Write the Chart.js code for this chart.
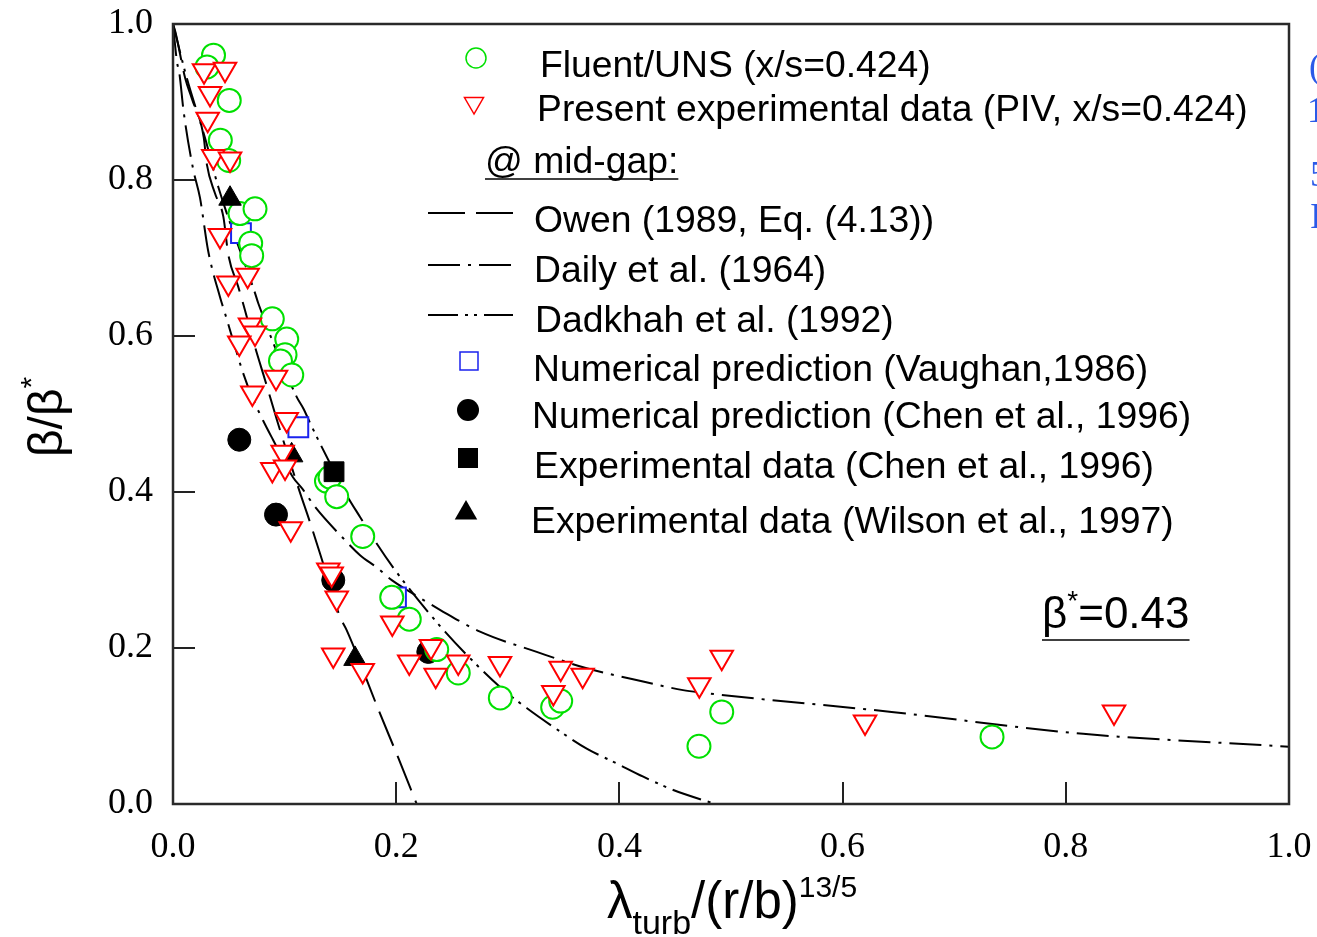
<!DOCTYPE html>
<html><head><meta charset="utf-8">
<script src="https://cdn.jsdelivr.net/npm/chart.js@4.4.1/dist/chart.umd.min.js"></script>
<style>html,body{margin:0;padding:0;background:#fff;overflow:hidden;}#wrap{position:relative;width:1317px;height:937px;}</style>
</head><body><div id="wrap"><canvas id="c" width="1317" height="937"></canvas></div>
<script>
// ---- data ----
const tickValues = [0, 0.2, 0.4, 0.6, 0.8, 1.0];
const tickLabels = ['0.0', '0.2', '0.4', '0.6', '0.8', '1.0'];

const fluentX = [0.0363,0.0305,0.0504,0.0424,0.0499,0.0600,0.0735,0.0696,0.0705,0.0890,0.1019,0.1004,0.0963,0.1064,0.1375,0.1407,0.1467,0.1700,0.1960,0.2117,0.2363,0.2556,0.2933,0.3402,0.3474,0.4713,0.4917,0.7339];
const fluentY = [0.960,0.945,0.902,0.851,0.825,0.757,0.763,0.719,0.703,0.622,0.596,0.576,0.568,0.550,0.414,0.419,0.394,0.343,0.265,0.237,0.198,0.168,0.136,0.124,0.132,0.074,0.118,0.086];

const pivX = [0.0278,0.0466,0.0332,0.0311,0.0361,0.0511,0.0421,0.0669,0.0496,0.0690,0.0735,0.0594,0.0923,0.0711,0.1019,0.0983,0.0890,0.1004,0.1055,0.1392,0.1422,0.1467,0.1965,0.1436,0.1700,0.2117,0.2312,0.2354,0.2556,0.2930,0.3474,0.3671,0.3408,0.4716,0.4917,0.6201,0.8432];
const pivY = [0.940,0.942,0.911,0.878,0.830,0.827,0.729,0.678,0.668,0.614,0.604,0.591,0.547,0.527,0.493,0.451,0.429,0.432,0.353,0.300,0.295,0.264,0.232,0.191,0.171,0.182,0.202,0.165,0.182,0.180,0.174,0.165,0.143,0.153,0.188,0.105,0.118];

const vaughanX = [0.0609,0.1123,0.1998];
const vaughanY = [0.732,0.483,0.265];

const chenNumX = [0.0594,0.0923,0.1436,0.2288];
const chenNumY = [0.467,0.371,0.287,0.195];

const chenExpX = [0.1443];
const chenExpY = [0.426];

const wilsonX = [0.0511,0.1063,0.1631];
const wilsonY = [0.776,0.447,0.186];

const owenX = [0,0.0021,0.0110,0.0170,0.0275,0.0302,0.0376,0.0451,0.0496,0.0585,0.0645,0.0735,0.0824,0.0932,0.1129,0.1228,0.1344,0.1496,0.1556,0.1849,0.2019,0.2184];
const owenY = [1.0,0.990,0.930,0.904,0.855,0.821,0.783,0.753,0.704,0.663,0.633,0.586,0.544,0.492,0.403,0.361,0.309,0.240,0.223,0.118,0.059,0.0];

const dailyX = [0,0.0036,0.0056,0.0096,0.0179,0.0242,0.0314,0.0421,0.0466,0.0556,0.0627,0.0708,0.0806,0.0896,0.1075,0.1165,0.1272,0.1523,0.1676,0.1828,0.1960,0.2124,0.2392,0.2751,0.3259,0.3707,0.4122,0.4570,0.4724,0.6439,0.8155,1.0];
const dailyY = [1.0,0.951,0.938,0.887,0.815,0.777,0.710,0.650,0.629,0.586,0.553,0.522,0.492,0.467,0.419,0.403,0.381,0.341,0.319,0.303,0.287,0.272,0.249,0.221,0.195,0.174,0.160,0.146,0.143,0.118,0.090,0.0735];

const dadkhahX = [0,0.0125,0.0289,0.0406,0.0735,0.0764,0.1108,0.1168,0.1243,0.1392,0.1556,0.1676,0.1825,0.1989,0.2195,0.2437,0.2661,0.2930,0.3169,0.3468,0.3707,0.3976,0.4214,0.4483,0.4857];
const dadkhahY = [1.0,0.930,0.853,0.791,0.655,0.642,0.522,0.507,0.484,0.441,0.396,0.368,0.334,0.300,0.262,0.221,0.187,0.150,0.123,0.093,0.071,0.052,0.035,0.018,0.0];

// ---- build chart ----
const pts = (xs, ys) => xs.map((x, i) => ({x: x, y: ys[i]}));
const GREEN = '#00e000', RED = '#ff0000', BLUE = '#1a22ee', BLACK = '#000';
const OWEN_DASH = [37, 11], DAILY_DASH = [32, 8, 3, 8], DADKHAH_DASH = [30, 7, 3, 6, 3, 7];

const curve = (label, xs, ys, dash) => ({
  label, data: pts(xs, ys), showLine: true, borderColor: BLACK, borderWidth: 2,
  borderDash: dash, pointRadius: 0, pointHoverRadius: 0, cubicInterpolationMode: 'monotone',
  fill: false, order: 10
});

const datasets = [
  curve('Owen (1989, Eq. (4.13))', owenX, owenY, OWEN_DASH),
  curve('Daily et al. (1964)', dailyX, dailyY, DAILY_DASH),
  curve('Dadkhah et al. (1992)', dadkhahX, dadkhahY, DADKHAH_DASH),
  {label: 'Numerical prediction (Vaughan,1986)', data: pts(vaughanX, vaughanY), pointStyle: 'rect',
   pointRadius: 14, borderColor: BLUE, backgroundColor: '#fff', borderWidth: 2, order: 9},
  {label: 'Numerical prediction (Chen et al., 1996)', data: pts(chenNumX, chenNumY), pointStyle: 'circle',
   pointRadius: 11.5, borderColor: BLACK, backgroundColor: BLACK, borderWidth: 1, order: 8},
  {label: 'Fluent/UNS (x/s=0.424)', data: pts(fluentX, fluentY), pointStyle: 'circle',
   pointRadius: 11.5, borderColor: GREEN, backgroundColor: '#fff', borderWidth: 2, order: 7},
  {label: 'Experimental data (Chen et al., 1996)', data: pts(chenExpX, chenExpY), pointStyle: 'rect',
   pointRadius: 14, borderColor: BLACK, backgroundColor: BLACK, borderWidth: 1, order: 6},
  {label: 'Experimental data (Wilson et al., 1997)', data: pts(wilsonX, wilsonY), pointStyle: 'triangle',
   pointRadius: 13, borderColor: BLACK, backgroundColor: BLACK, borderWidth: 1, order: 5},
  {label: 'Present experimental data (PIV, x/s=0.424)', data: pts(pivX, pivY), pointStyle: 'triangle',
   pointRotation: 180, pointRadius: 13, borderColor: RED, backgroundColor: '#fff', borderWidth: 2, order: 4}
];

const SANS = '"Liberation Sans", Arial, sans-serif';
const SERIF = '"Liberation Serif", "Times New Roman", serif';

function marker(ctx, kind, x, y, r, stroke, fill, lw) {
  ctx.save();
  ctx.beginPath();
  if (kind === 'circle') { ctx.arc(x, y, r, 0, Math.PI * 2); }
  else if (kind === 'rect') { ctx.rect(x - r, y - r, 2 * r, 2 * r); }
  else if (kind === 'tri' || kind === 'triDown') {
    const s = kind === 'tri' ? -1 : 1;
    ctx.moveTo(x, y + s * r);
    ctx.lineTo(x - r * 0.866, y - s * r * 0.5);
    ctx.lineTo(x + r * 0.866, y - s * r * 0.5);
    ctx.closePath();
  }
  if (fill) { ctx.fillStyle = fill; ctx.fill(); }
  if (stroke) { ctx.strokeStyle = stroke; ctx.lineWidth = lw; ctx.stroke(); }
  ctx.restore();
}

const decor = {
  id: 'decor',
  afterDatasetsDraw(chart) {
    const ctx = chart.ctx, a = chart.chartArea, xs = chart.scales.x, ys = chart.scales.y;
    ctx.save();
    // inward ticks
    ctx.strokeStyle = '#222'; ctx.lineWidth = 2;
    tickValues.forEach(v => {
      if (v > 0 && v < 1) {
        const px = Math.round(xs.getPixelForValue(v));
        ctx.beginPath(); ctx.moveTo(px, a.bottom); ctx.lineTo(px, a.bottom - 22); ctx.stroke();
        const py = Math.round(ys.getPixelForValue(v));
        ctx.beginPath(); ctx.moveTo(a.left, py); ctx.lineTo(a.left + 22, py); ctx.stroke();
      }
    });
    // frame
    ctx.strokeStyle = '#2a2a2a'; ctx.lineWidth = 2.5;
    ctx.strokeRect(a.left, a.top, a.right - a.left, a.bottom - a.top);

    // legend
    ctx.fillStyle = '#000'; ctx.textBaseline = 'alphabetic'; ctx.textAlign = 'left';
    ctx.font = '37.3px ' + SANS;
    marker(ctx, 'circle', 476, 58, 10, GREEN, null, 1.5);
    ctx.fillText(datasets[5].label, 540, 77);
    marker(ctx, 'triDown', 474, 103, 11, RED, null, 1.5);
    ctx.fillText(datasets[8].label, 537, 121);
    ctx.fillText('@ mid-gap:', 485, 173);
    const mw = ctx.measureText('@ mid-gap:').width;
    ctx.strokeStyle = '#000'; ctx.lineWidth = 1.5;
    ctx.beginPath(); ctx.moveTo(485, 179); ctx.lineTo(485 + mw, 179); ctx.stroke();
    const legLine = (y, dash) => {
      ctx.save(); ctx.setLineDash(dash); ctx.lineWidth = 2; ctx.strokeStyle = '#000';
      ctx.beginPath(); ctx.moveTo(428, y); ctx.lineTo(513, y); ctx.stroke(); ctx.restore();
    };
    legLine(213, OWEN_DASH); ctx.fillText(datasets[0].label, 534, 232);
    legLine(265, DAILY_DASH); ctx.fillText(datasets[1].label, 534, 282);
    legLine(315, DADKHAH_DASH); ctx.fillText(datasets[2].label, 535, 332);
    marker(ctx, 'rect', 469, 361, 9, BLUE, null, 1.5);
    ctx.fillText(datasets[3].label, 533, 381);
    marker(ctx, 'circle', 468, 410, 11, null, '#000', 0);
    ctx.fillText(datasets[4].label, 532, 428);
    marker(ctx, 'rect', 468, 458, 10, null, '#000', 0);
    ctx.fillText(datasets[6].label, 534, 478);
    marker(ctx, 'tri', 466, 513, 13, null, '#000', 0);
    ctx.fillText(datasets[7].label, 531, 533);

    // beta* annotation
    ctx.font = '44px ' + SANS;
    let x = 1042;
    ctx.fillText('\u03B2', x, 628); x += ctx.measureText('\u03B2').width;
    ctx.font = '28px ' + SANS; ctx.fillText('*', x, 610); x += ctx.measureText('*').width;
    ctx.font = '44px ' + SANS; ctx.fillText('=0.43', x, 628); x += ctx.measureText('=0.43').width;
    ctx.lineWidth = 1.5; ctx.beginPath(); ctx.moveTo(1042, 640); ctx.lineTo(x, 640); ctx.stroke();

    // x title
    x = 607;
    ctx.font = '51px ' + SANS; ctx.fillText('\u03BB', x, 918); x += ctx.measureText('\u03BB').width;
    ctx.font = '34px ' + SANS; ctx.fillText('turb', x, 934); x += ctx.measureText('turb').width;
    ctx.font = '51px ' + SANS; ctx.fillText('/(r/b)', x, 918); x += ctx.measureText('/(r/b)').width;
    ctx.font = '30px ' + SANS; ctx.fillText('13/5', x, 897);

    // y title
    ctx.save();
    ctx.translate(62, 457); ctx.rotate(-Math.PI / 2);
    ctx.font = '48px ' + SANS; ctx.fillText('\u03B2/\u03B2', 0, 0);
    const w = ctx.measureText('\u03B2/\u03B2').width;
    ctx.font = '30px ' + SANS; ctx.fillText('*', w, -21);
    ctx.restore();

    // clipped blue text at the right edge
    ctx.fillStyle = '#2a5ae8'; ctx.font = '36px ' + SERIF;
    ctx.fillText('(', 1309, 78);
    ctx.fillText('1', 1307, 122);
    ctx.fillText('5', 1310, 186);
    ctx.fillText('I', 1310, 228);
    ctx.restore();
  }
};

new Chart(document.getElementById('c'), {
  type: 'scatter',
  data: {datasets},
  options: {
    responsive: false, animation: false, events: [],
    layout: {padding: {top: 24, right: 28, left: 0, bottom: 0}},
    plugins: {legend: {display: false}, tooltip: {enabled: false}},
    scales: {
      x: {
        type: 'linear', min: 0, max: 1,
        afterFit: s => { s.height = 133; s.paddingLeft = 0; s.paddingRight = 0; },
        afterBuildTicks: s => { s.ticks = tickValues.map(v => ({value: v})); },
        grid: {display: false, drawTicks: false}, border: {display: false},
        ticks: {padding: 22, color: '#000', font: {family: SERIF, size: 36},
                callback: (v, i) => tickLabels[i]}
      },
      y: {
        type: 'linear', min: 0, max: 1,
        afterFit: s => { s.width = 173; s.paddingTop = 0; s.paddingBottom = 0; },
        afterBuildTicks: s => { s.ticks = tickValues.map(v => ({value: v})); },
        grid: {display: false, drawTicks: false}, border: {display: false},
        ticks: {padding: 20, color: '#000', font: {family: SERIF, size: 36},
                callback: (v, i) => tickLabels[i]}
      }
    }
  },
  plugins: [decor]
});
</script>
</body></html>
